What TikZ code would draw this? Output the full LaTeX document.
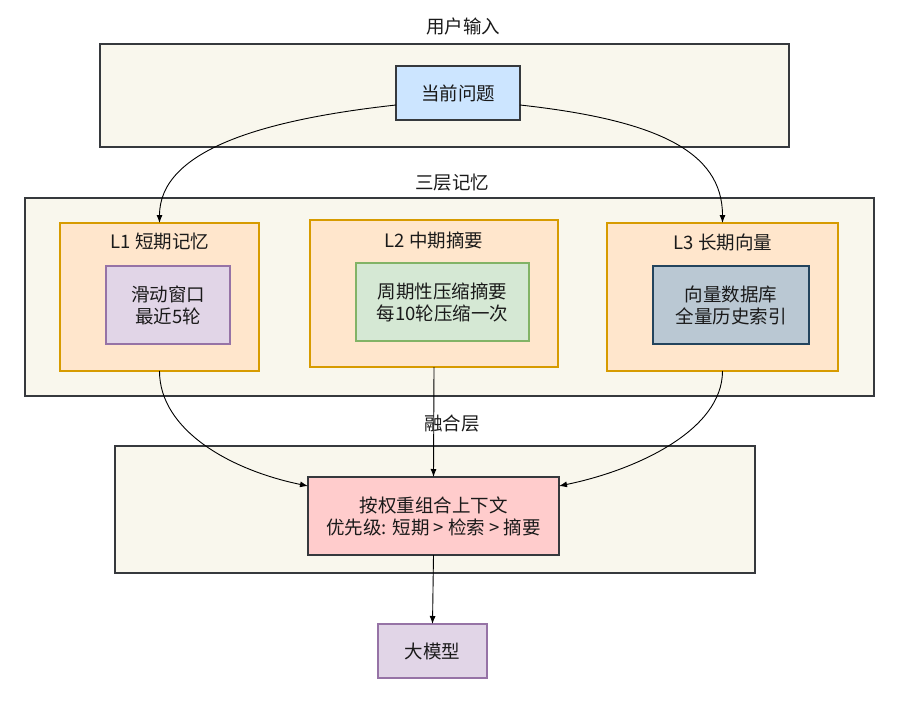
\documentclass[tikz,border=0pt]{standalone}
\usepackage{fontspec}
\setmainfont{Noto Sans CJK SC}
\usetikzlibrary{arrows.meta}
\definecolor{panelfill}{HTML}{F9F7ED}
\definecolor{darkstroke}{HTML}{36393D}
\definecolor{qfill}{HTML}{CCE5FF}
\definecolor{orfill}{HTML}{FFE6CC}
\definecolor{orstroke}{HTML}{D79B00}
\definecolor{pufill}{HTML}{E1D5E7}
\definecolor{pustroke}{HTML}{9673A6}
\definecolor{grfill}{HTML}{D5E8D4}
\definecolor{grstroke}{HTML}{82B366}
\definecolor{blfill}{HTML}{BAC8D3}
\definecolor{blstroke}{HTML}{23445D}
\definecolor{rdfill}{HTML}{FFCCCC}
\definecolor{txt}{HTML}{1A1A1A}
\begin{document}
\begin{tikzpicture}[x=1pt,y=-1pt,
  every node/.style={font=\fontsize{18.5}{22}\selectfont, text=txt, align=center, inner sep=0pt, outer sep=0pt},
  panel/.style={draw=darkstroke, fill=panelfill, line width=1.6pt},
  layerbox/.style={draw=orstroke, fill=orfill, line width=1.6pt},
  qbox/.style={draw=darkstroke, fill=qfill, line width=1.6pt},
  pubox/.style={draw=pustroke, fill=pufill, line width=1.6pt},
  grbox/.style={draw=grstroke, fill=grfill, line width=1.6pt},
  blbox/.style={draw=blstroke, fill=blfill, line width=1.6pt},
  rdbox/.style={draw=darkstroke, fill=rdfill, line width=1.6pt},
  conn/.style={draw=black, line width=0.9pt, -{Latex[length=8pt,width=6pt]}}
]
\useasboundingbox (0,0) rectangle (902,701);
\fill[white] (0,0) rectangle (902,701);

% panels
\node[panel, minimum width=689pt, minimum height=103pt] (p1) at (444.5,95.5) {};
\node (p1lab) at (463,26) {用户输入};
\node[panel, minimum width=849pt, minimum height=198pt] (p2) at (449.5,297) {};
\node (p2lab) at (452,183) {三层记忆};
\node[panel, minimum width=640pt, minimum height=127pt] (p3) at (435,509.5) {};
\node (p3lab) at (452,424) {融合层};

% input
\node[qbox, minimum width=124pt, minimum height=54pt] (q) at (458,93) {当前问题};

% layers
\node[layerbox, minimum width=199pt, minimum height=148pt] (L1) at (159.5,297) {};
\node (L1t) at (160,242) {L1 短期记忆};
\node[pubox, minimum width=124pt, minimum height=78pt] (L1in) at (168,305) {滑动窗口\\最近5轮};

\node[layerbox, minimum width=248pt, minimum height=147pt] (L2) at (434,293.5) {};
\node (L2t) at (434,240) {L2 中期摘要};
\node[grbox, minimum width=173pt, minimum height=78pt] (L2in) at (442.5,302) {周期性压缩摘要\\每10轮压缩一次};

\node[layerbox, minimum width=231pt, minimum height=148pt] (L3) at (722.5,297) {};
\node (L3t) at (723,242) {L3 长期向量};
\node[blbox, minimum width=156pt, minimum height=78pt] (L3in) at (731,305) {向量数据库\\全量历史索引};

% fusion
\node[rdbox, minimum width=251pt, minimum height=78pt] (red) at (433.5,516) {按权重组合上下文\\优先级: 短期 > 检索 > 摘要};
\node[pubox, minimum width=109pt, minimum height=54pt] (llm) at (432.5,651) {大模型};

% connectors
\draw[conn] ([yshift=-12pt]q.west) .. controls +(-136,15) and +(0,-72) .. (L1.north);
\draw[conn] ([yshift=-12pt]q.east) .. controls +(136,15) and +(0,-72) .. (L3.north);
\draw[conn] (L1.south) .. controls +(0,59) and +(-78,-16) .. ([yshift=30pt]red.west);
\draw[conn] (L2.south) -- (red.north);
\draw[conn] (L3.south) .. controls +(0,59) and +(78,-16) .. ([yshift=30pt]red.east);
\draw[conn] (red.south) -- (llm.north);
\end{tikzpicture}
\end{document}
